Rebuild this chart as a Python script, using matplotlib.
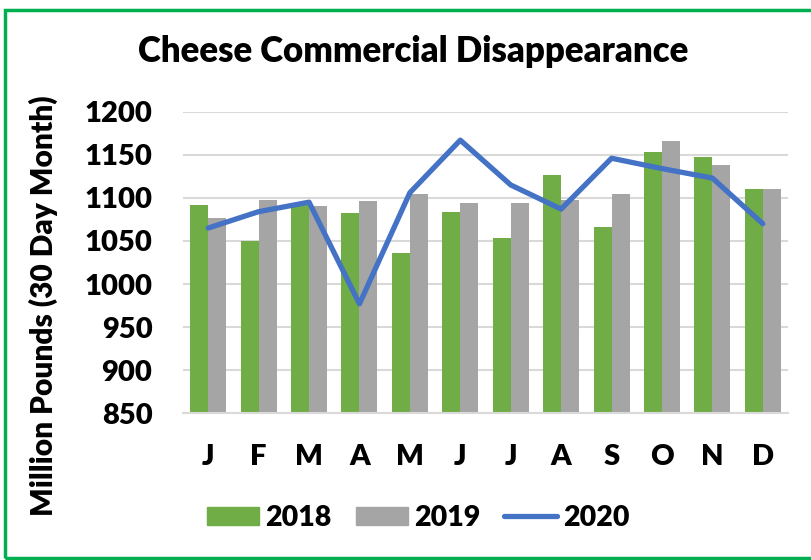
import matplotlib.pyplot as plt
import matplotlib.patches as patches
from matplotlib.lines import Line2D
import numpy as np

plt.rcParams['font.family'] = ['Lato', 'DejaVu Sans']
plt.rcParams['font.weight'] = 'heavy'

months = ["J", "F", "M", "A", "M", "J", "J", "A", "S", "O", "N", "D"]
y2018 = [1092, 1050, 1093, 1082, 1036, 1084, 1053, 1127, 1066, 1153, 1148, 1110]
y2019 = [1077, 1097, 1090, 1096, 1105, 1094, 1094, 1097, 1104, 1166, 1138, 1110]
y2020 = [1065, 1084, 1095, 977, 1106, 1167, 1115, 1087, 1146, 1134, 1123, 1070]
yticks = [850, 900, 950, 1000, 1050, 1100, 1150, 1200]

green = "#70AD47"
gray = "#A5A5A5"
blue = "#4472C4"

fig = plt.figure(figsize=(8.11, 5.6), dpi=100)
ax = fig.add_axes([183/811, 1-413.3/560, (788-183)/811, (413.3-111.7)/560])

x = np.arange(len(months))
w = 0.357
ax.bar(x - w/2, y2018, w, color=green, zorder=2)
ax.bar(x + w/2, y2019, w, color=gray, zorder=2)
ax.plot(x, y2020, color=blue, lw=3.8, solid_joinstyle="round",
        solid_capstyle="round", zorder=3)

ax.set_ylim(850, 1200)
ax.set_xlim(-0.5, 11.5)
ax.set_yticks(yticks)
ax.set_xticks(x)
ax.set_xticklabels(months)
ax.yaxis.grid(True, color="#D9D9D9", lw=1.5, zorder=0)
ax.set_axisbelow(True)
for s in ["top", "right", "left"]:
    ax.spines[s].set_visible(False)
ax.spines["bottom"].set_color("#D9D9D9")
ax.spines["bottom"].set_linewidth(1.5)
ax.tick_params(axis="both", length=0, labelsize=21)
ax.tick_params(axis="y", pad=22)
ax.tick_params(axis="x", pad=22)

fig.text(43/811, 1-306/560, "Million Pounds (30 Day Month)", rotation=90,
         ha="center", va="center", fontsize=21.5, fontweight="heavy")
fig.text(413/811, 1-52/560, "Cheese Commercial Disappearance", ha="center",
         va="center", fontsize=25, fontweight="heavy")

handles = [patches.Patch(color=green), patches.Patch(color=gray),
           Line2D([0], [0], color=blue, lw=3.8, solid_capstyle="round")]
fig.legend(handles, ["2018", "2019", "2020"], ncol=3, loc="center",
           bbox_to_anchor=(418/811, 1-518/560), frameon=False, fontsize=20.5,
           handlelength=1.85, handleheight=0.62, handletextpad=0.2,
           columnspacing=0.85)

# green frame around the chart
fig.patches.append(patches.Rectangle((5/811, 1-558/560), 1.0, (558-10)/560,
                                     transform=fig.transFigure, fill=False,
                                     edgecolor="#00B050", lw=2.5))

fig.savefig("out.png", dpi=100)
